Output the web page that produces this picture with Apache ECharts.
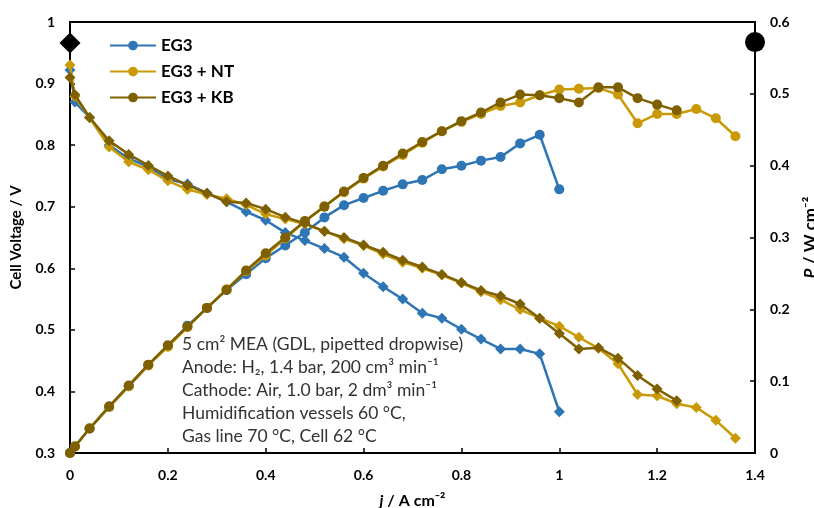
<!DOCTYPE html>
<html>
<head>
<meta charset="utf-8">
<script src="https://cdn.jsdelivr.net/npm/echarts@6/dist/echarts.min.js"></script>
<style>
html,body{margin:0;padding:0;background:#fff;}
#chart{width:814px;height:508px;}
</style>
</head>
<body>
<div id="chart"></div>
<script>
// current density, A cm-2
var jEG3 = [0, 0.01, 0.04, 0.08, 0.12, 0.16, 0.20, 0.24, 0.28, 0.32, 0.36, 0.40, 0.44, 0.48, 0.52, 0.56, 0.60, 0.64, 0.68, 0.72, 0.76, 0.80, 0.84, 0.88, 0.92, 0.96, 1.00];
var jNT = [0, 0.01, 0.04, 0.08, 0.12, 0.16, 0.20, 0.24, 0.28, 0.32, 0.36, 0.40, 0.44, 0.48, 0.52, 0.56, 0.60, 0.64, 0.68, 0.72, 0.76, 0.80, 0.84, 0.88, 0.92, 0.96, 1.00, 1.04, 1.08, 1.12, 1.16, 1.20, 1.24, 1.28, 1.32, 1.36];
var jKB = [0, 0.01, 0.04, 0.08, 0.12, 0.16, 0.20, 0.24, 0.28, 0.32, 0.36, 0.40, 0.44, 0.48, 0.52, 0.56, 0.60, 0.64, 0.68, 0.72, 0.76, 0.80, 0.84, 0.88, 0.92, 0.96, 1.00, 1.04, 1.08, 1.12, 1.16, 1.20, 1.24];

// cell voltage, V
var vEG3 = [0.922, 0.870, 0.845, 0.800, 0.778, 0.765, 0.745, 0.737, 0.722, 0.708, 0.692, 0.678, 0.658, 0.645, 0.632, 0.618, 0.592, 0.570, 0.550, 0.527, 0.519, 0.501, 0.485, 0.469, 0.469, 0.461, 0.367];
var vNT = [0.930, 0.879, 0.845, 0.797, 0.773, 0.760, 0.742, 0.728, 0.720, 0.713, 0.703, 0.688, 0.680, 0.672, 0.660, 0.648, 0.637, 0.623, 0.610, 0.600, 0.589, 0.576, 0.562, 0.549, 0.533, 0.519, 0.506, 0.488, 0.470, 0.445, 0.395, 0.393, 0.380, 0.374, 0.353, 0.324];
var vKB = [0.910, 0.882, 0.845, 0.807, 0.785, 0.767, 0.750, 0.735, 0.722, 0.708, 0.706, 0.696, 0.683, 0.673, 0.660, 0.650, 0.638, 0.626, 0.613, 0.602, 0.590, 0.577, 0.564, 0.555, 0.542, 0.519, 0.494, 0.469, 0.471, 0.454, 0.426, 0.404, 0.385];

// power density, W cm-2
var pEG3 = [0, 0.009, 0.034, 0.064, 0.093, 0.122, 0.149, 0.177, 0.202, 0.227, 0.249, 0.271, 0.289, 0.307, 0.328, 0.345, 0.355, 0.365, 0.374, 0.380, 0.395, 0.400, 0.407, 0.412, 0.431, 0.443, 0.367];
var pNT = [0, 0.009, 0.034, 0.064, 0.093, 0.122, 0.148, 0.175, 0.202, 0.228, 0.253, 0.275, 0.299, 0.322, 0.343, 0.363, 0.382, 0.399, 0.415, 0.432, 0.448, 0.461, 0.472, 0.483, 0.488, 0.498, 0.506, 0.507, 0.508, 0.499, 0.459, 0.472, 0.472, 0.479, 0.466, 0.441];
var pKB = [0, 0.009, 0.034, 0.065, 0.094, 0.123, 0.150, 0.176, 0.202, 0.227, 0.254, 0.278, 0.300, 0.323, 0.343, 0.364, 0.383, 0.400, 0.417, 0.433, 0.448, 0.462, 0.474, 0.488, 0.499, 0.498, 0.494, 0.488, 0.509, 0.509, 0.494, 0.485, 0.477];

// black reference marks on the axes
var ocvMark = [0, 0.966];
var pMark = [1.4, 0.572];

var names = ['EG3', 'EG3 + NT', 'EG3 + KB'];
var colors = ['#2E75B6', '#C99A06', '#7F6000'];

var notes = [
	'5 cm\u00B2 MEA (GDL, pipetted dropwise)',
	'Anode: H\u2082, 1.4 bar, 200 cm\u00B3 min\u207B\u00B9',
	'Cathode: Air, 1.0 bar, 2 dm\u00B3 min\u207B\u00B9',
	'Humidification vessels 60 \u00B0C,',
	'Gas line 70 \u00B0C, Cell 62 \u00B0C'
];

function pairs(xs, ys){
	var out = [];
	for(var i=0;i<xs.length;i++){
		out.push([xs[i], ys[i]]);
	}
	return out;
}

var myChart = echarts.init(document.getElementById("chart"));
var fnt = 'Lato, "Open Sans", sans-serif';
var lblX = {color:'#000', fontWeight:'bold', fontSize:14, fontFamily:fnt, margin:15};
var lblY = {color:'#000', fontWeight:'bold', fontSize:14, fontFamily:fnt, margin:15};

var series = [];
var jAll = [jEG3, jNT, jKB], vAll = [vEG3, vNT, vKB], pAll = [pEG3, pNT, pKB];
for(var k=0;k<3;k++){
	series.push({
		name: names[k] + ' V',
		type: 'line',
		yAxisIndex: 0,
		data: pairs(jAll[k], vAll[k]),
		symbol: 'diamond',
		symbolSize: 11,
		clip: false,
		lineStyle: {width:2.5, color:colors[k]},
		itemStyle: {color:colors[k]},
		z: 2 + k
	});
	series.push({
		name: names[k],
		type: 'line',
		yAxisIndex: 1,
		data: pairs(jAll[k], pAll[k]),
		symbol: 'circle',
		symbolSize: 10,
		clip: false,
		lineStyle: {width:2.5, color:colors[k]},
		itemStyle: {color:colors[k]},
		z: 2 + k
	});
}
series.push({
	name: 'OCV',
	type: 'scatter',
	yAxisIndex: 0,
	data: [ocvMark],
	symbol: 'diamond',
	symbolSize: 21,
	clip: false,
	itemStyle: {color:'#000', opacity:1},
	z: 10
});
series.push({
	name: 'Pmark',
	type: 'scatter',
	yAxisIndex: 1,
	data: [pMark],
	symbol: 'circle',
	symbolSize: 20,
	clip: false,
	itemStyle: {color:'#000', opacity:1},
	z: 10
});

var option = {
	animation: false,
	grid: {left:70, right:59, top:22, bottom:55, outerBoundsMode:'none', show:true, borderColor:'#000', borderWidth:2, backgroundColor:'transparent'},
	legend: {
		data: names,
		orient: 'vertical',
		left: 104,
		top: 32,
		itemWidth: 46,
		itemHeight: 12,
		itemGap: 9,
		textStyle: {color:'#000', fontWeight:'bold', fontSize:17, fontFamily:fnt}
	},
	xAxis: {
		type: 'value',
		min: 0, max: 1.4, interval: 0.2,
		name: '{i|j} / A cm\u207B\u00B2',
		nameLocation: 'middle',
		nameGap: 40,
		nameTextStyle: {color:'#000', fontWeight:'bold', fontSize:16, fontFamily:fnt, rich:{i:{fontStyle:'italic', fontWeight:'bold', fontSize:16, fontFamily:fnt}}},
		axisLine: {lineStyle:{color:'#000', width:2}},
		axisTick: {inside:true, length:5, lineStyle:{color:'#000', width:1.5}},
		axisLabel: lblX,
		splitLine: {show:false}
	},
	yAxis: [{
		type: 'value',
		min: 0.3, max: 1, interval: 0.1,
		name: 'Cell Voltage / V',
		nameLocation: 'middle',
		nameRotate: 90,
		nameGap: 46,
		nameTextStyle: {color:'#000', fontWeight:'bold', fontSize:15, fontFamily:fnt},
		axisLine: {show:true, lineStyle:{color:'#000', width:2}},
		axisTick: {show:true, inside:true, length:5, lineStyle:{color:'#000', width:1.5}},
		axisLabel: lblY,
		splitLine: {show:false}
	}, {
		type: 'value',
		min: 0, max: 0.6, interval: 0.1,
		position: 'right',
		name: '{i|P} / W cm\u207B\u00B2',
		nameLocation: 'middle',
		nameRotate: 90,
		nameGap: 47,
		nameTextStyle: {color:'#000', fontWeight:'bold', fontSize:17, fontFamily:fnt, rich:{i:{fontStyle:'italic', fontWeight:'bold', fontSize:17, fontFamily:fnt}}},
		axisLine: {show:true, lineStyle:{color:'#000', width:2}},
		axisTick: {show:true, inside:true, length:5, lineStyle:{color:'#000', width:1.5}},
		axisLabel: lblY,
		splitLine: {show:false}
	}],
	graphic: [{
		type: 'text',
		left: 182,
		top: 333,
		z: 20,
		style: {
			text: notes.join('\n'),
			fill: '#333',
			font: '17.5px ' + fnt,
			lineHeight: 23
		}
	}],
	series: series
};
myChart.setOption(option);
</script>
</body>
</html>
